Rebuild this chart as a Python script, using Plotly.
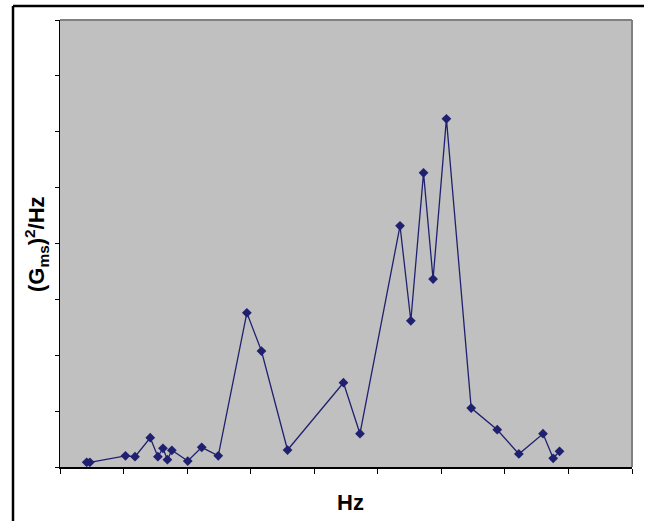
import plotly.graph_objects as go

freq = [42, 47, 103, 118, 142, 154, 162, 169, 176, 201, 223, 249, 294, 317, 358,
        446, 472, 535, 552, 572, 587, 608, 647, 688, 722, 760, 776, 786]
psd = [0.00084, 0.00084, 0.0020, 0.00184, 0.00524, 0.00184, 0.00335, 0.00131, 0.00299,
       0.00107, 0.00352, 0.0020, 0.0276, 0.02075, 0.00304, 0.01508, 0.00596, 0.04317,
       0.02617, 0.05265, 0.03363, 0.06231, 0.01055, 0.00667, 0.00233, 0.00596,
       0.00156, 0.00281]

x_ticks = [0, 100, 200, 300, 400, 500, 600, 700, 800, 900]
y_ticks = [0, 0.01, 0.02, 0.03, 0.04, 0.05, 0.06, 0.07, 0.08]

W, H = 649, 521
L, R, T, B = 60, 17, 20, 54
pw, ph = W - L - R, H - T - B

def px_x(p):
    return (p - L) / pw

def px_y(p):
    return (H - B - p) / ph

color = "#202070"

fig = go.Figure()
fig.add_trace(go.Scatter(
    x=freq, y=psd, mode="lines+markers",
    line=dict(color=color, width=1.3),
    marker=dict(symbol="diamond", size=7.5, color=color),
    showlegend=False, hoverinfo="skip",
))

fig.update_layout(
    width=W, height=H,
    margin=dict(l=L, r=R, t=T, b=B),
    paper_bgcolor="white",
    plot_bgcolor="#C0C0C0",
    font=dict(family="Arial, Liberation Sans, sans-serif", color="black"),
    xaxis=dict(range=[0, 900], tickvals=x_ticks, showticklabels=False,
               ticks="outside", ticklen=5, tickwidth=1, tickcolor="black",
               showline=True, linecolor="black", linewidth=1.5,
               showgrid=False, zeroline=False, fixedrange=True),
    yaxis=dict(range=[0, 0.08], tickvals=y_ticks, showticklabels=False,
               ticks="outside", ticklen=4, tickwidth=1, tickcolor="black",
               showline=True, linecolor="black", linewidth=1,
               showgrid=False, zeroline=False, fixedrange=True),
    shapes=[
        # plot area top / right border
        dict(type="line", xref="paper", yref="paper", x0=0, x1=1, y0=1, y1=1,
             line=dict(color="#808080", width=2)),
        dict(type="line", xref="paper", yref="paper", x0=1, x1=1, y0=0, y1=1,
             line=dict(color="#808080", width=2)),
        # outer chart frame (top and left)
        dict(type="line", xref="paper", yref="paper", x0=px_x(13), x1=px_x(644),
             y0=px_y(6), y1=px_y(6), line=dict(color="black", width=2.5)),
        dict(type="line", xref="paper", yref="paper", x0=px_x(13), x1=px_x(13),
             y0=px_y(6), y1=px_y(530), line=dict(color="black", width=2.5)),
    ],
    annotations=[
        dict(text="<b>Hz</b>", xref="paper", yref="paper",
             x=px_x(350), y=px_y(502), showarrow=False,
             xanchor="center", yanchor="middle", font=dict(size=22)),
        dict(text="<b>(G<sub>ms</sub>)<sup>2</sup>/Hz</b>", xref="paper", yref="paper",
             x=px_x(36), y=px_y(244), showarrow=False, textangle=-90,
             xanchor="center", yanchor="middle", font=dict(size=22)),
    ],
)

fig.write_html("out.html")
